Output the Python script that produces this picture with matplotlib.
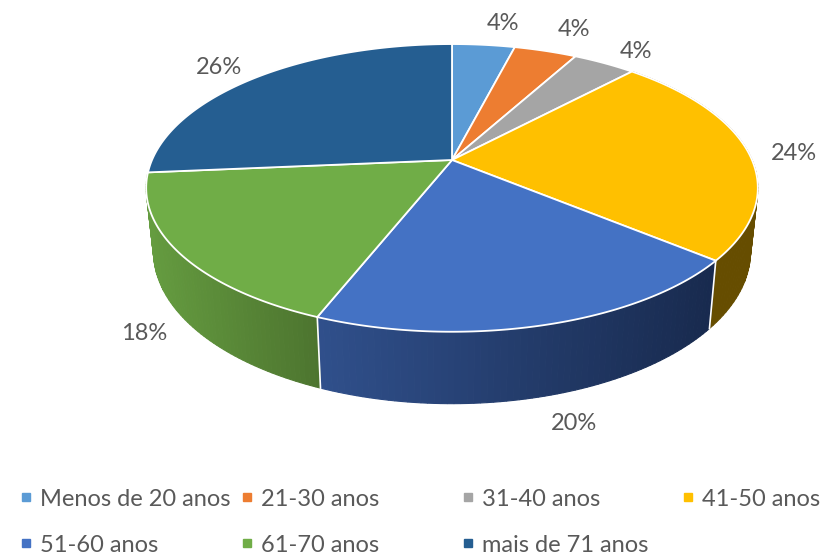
import numpy as np
import matplotlib
matplotlib.use("Agg")
import matplotlib.pyplot as plt
from matplotlib.colors import to_rgb

labels = ["Menos de 20 anos", "21-30 anos", "31-40 anos", "41-50 anos",
          "51-60 anos", "61-70 anos", "mais de 71 anos"]
values = [4, 4, 4, 24, 20, 17.6, 26.4]
colors = ["#5b9bd5", "#ed7d31", "#a5a5a5", "#ffc000", "#4472c4", "#70ad47", "#255e91"]
# wall shading, left end and right end of each wedge
wall_left = ["#5b9bd5", "#ed7d31", "#a5a5a5", "#664d00", "#30508c", "#659c40", "#255e91"]
wall_right = ["#5b9bd5", "#ed7d31", "#a5a5a5", "#664d00", "#182a4e", "#4d752f", "#255e91"]

plt.rcParams["font.family"] = ["Lato", "DejaVu Sans"]

# perspective of the tilted disc, in pixels of the picture
CX, K, C, A, B = 452, 300, 0.194, -107.4, 160


def top(t):
    x, y = np.sin(t), np.cos(t)
    d = 1 + C * y
    return CX + K * x / d, (A * y + B) / d


def bottom(t):
    px, py = top(t)
    return CX + (px - CX) * 0.976, py + 53 + 0.057 * py


fig = plt.figure(figsize=(8.38, 5.55), dpi=100)
ax = fig.add_axes([0, 0, 1, 1])
ax.set_xlim(0, 838)
ax.set_ylim(555, 0)
ax.axis("off")

edges = np.cumsum([0] + values) / sum(values) * 2 * np.pi

# walls, only the three front wedges show one
for i in range(3, 6):
    t0, t1 = edges[i], edges[i + 1]
    ts = np.linspace(t0, t1, 70)
    c_l, c_r = np.array(to_rgb(wall_left[i])), np.array(to_rgb(wall_right[i]))
    xs = top(ts)[0]
    for j in range(len(ts) - 1):
        seg = ts[j:j + 2]
        tx, ty = top(seg)
        bx, by = bottom(seg)
        f = (xs[j] - xs.min()) / (xs.max() - xs.min())
        col = c_l + (c_r - c_l) * f
        ax.fill(np.r_[tx, bx[::-1]], np.r_[ty, by[::-1]], color=col, lw=0.8, zorder=2)

# white seam between the front walls
for t in edges[4:6]:
    px, py = top(t)
    qx, qy = bottom(t)
    ax.plot([px, qx], [py, qy], color="white", lw=1.2, zorder=3)

# top of the pie
for i in range(len(values)):
    ts = np.linspace(edges[i], edges[i + 1], 120)
    px, py = top(ts)
    ax.fill(np.r_[CX, px], np.r_[B, py], facecolor=colors[i],
            edgecolor="white", lw=1.3, joinstyle="round", zorder=4)

# percentage labels
label_xy = [(503, 23), (574, 30), (636, 51), (794, 154), (574, 424), (144, 333), (219, 68)]
for v, (x, y) in zip(values, label_xy):
    ax.text(x, y, f"{v:.0f}%", ha="center", va="center", fontsize=17, color="#595959", zorder=5)

# legend
legend_x = [20, 241, 462, 682, 20, 241, 462]
legend_y = [497, 497, 497, 497, 543, 543, 543]
for name, col, x, y in zip(labels, colors, legend_x, legend_y):
    ax.plot([x + 5.5], [y], marker="s", ms=5.5, color=col, ls="none", zorder=5)
    ax.text(x + 20, y + 2, name, ha="left", va="center", fontsize=17, color="#595959", zorder=5)

fig.savefig("out.png", dpi=100)
